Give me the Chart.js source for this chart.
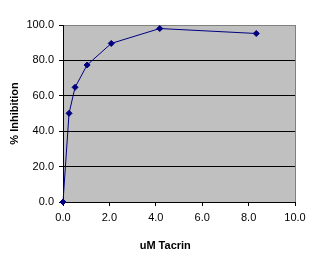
<!DOCTYPE html>
<html>
<head>
<meta charset="utf-8">
<script src="https://cdn.jsdelivr.net/npm/chart.js@4"></script>
<style>
  html, body { margin: 0; padding: 0; background: #fff; }
  #wrap { width: 315px; height: 264px; }
</style>
</head>
<body>
<div id="wrap"><canvas id="chart" width="315" height="264"></canvas></div>
<script>
// tacrin concentration (uM) and % inhibition
const concentrations = [0, 0.26, 0.52, 1.04, 2.08, 4.17, 8.33];
const inhibition = [0, 50.1, 64.8, 77.4, 89.6, 98.0, 95.2];
const xTicks = [0, 2, 4, 6, 8, 10];
const yTicks = [0, 20, 40, 60, 80, 100];

const points = concentrations.map((c, i) => ({ x: c, y: inhibition[i] }));

const plotBg = {
  id: "plotBg",
  beforeDraw(chart) {
    const { ctx, chartArea: a } = chart;
    ctx.save();
    ctx.fillStyle = "#c0c0c0";
    ctx.fillRect(a.left, a.top, a.right - a.left, a.bottom - a.top);
    ctx.restore();
  }
};

new Chart(document.getElementById("chart").getContext("2d"), {
  type: "scatter",
  data: {
    datasets: [{
      data: points,
      showLine: true,
      clip: false,
      borderColor: "#000080",
      borderWidth: 1,
      backgroundColor: "#000080",
      pointStyle: "rectRot",
      pointRadius: 3,
      pointBorderWidth: 1,
      tension: 0
    }]
  },
  options: {
    responsive: false,
    animation: false,
    layout: { padding: { top: 25, right: 20, left: 0, bottom: 0 } },
    plugins: { legend: { display: false }, tooltip: { enabled: false } },
    scales: {
      x: {
        type: "linear",
        min: xTicks[0],
        max: xTicks[xTicks.length - 1],
        afterFit: s => { s.height = 62; },
        afterBuildTicks: s => { s.ticks = xTicks.map(v => ({ value: v })); },
        border: { color: "#000", width: 1 },
        grid: {
          color: c => c.tick && c.tick.value === 10 ? "#808080" : "rgba(0,0,0,0)",
          tickColor: "#000",
          tickLength: 4,
          lineWidth: 1
        },
        ticks: {
          color: "#000",
          padding: 5,
          maxRotation: 0,
          font: { family: "Arial, 'Liberation Sans', sans-serif", size: 11 },
          callback: v => v.toFixed(1)
        },
        title: {
          display: true,
          text: "uM Tacrin         ",
          color: "#000",
          padding: { top: 0, bottom: 11 },
          font: { family: "Arial, 'Liberation Sans', sans-serif", size: 11, weight: "bold" }
        }
      },
      y: {
        type: "linear",
        min: yTicks[0],
        max: yTicks[yTicks.length - 1],
        afterFit: s => { s.width = 63; },
        afterBuildTicks: s => { s.ticks = yTicks.map(v => ({ value: v })); },
        border: { color: "#000", width: 1 },
        grid: {
          color: c => c.tick && c.tick.value === 100 ? "#808080" : "#000",
          tickColor: "#000",
          tickLength: 4,
          lineWidth: 1
        },
        ticks: {
          color: "#000",
          padding: 5,
          font: { family: "Arial, 'Liberation Sans', sans-serif", size: 11 },
          callback: v => v.toFixed(1)
        },
        title: {
          display: true,
          text: "% Inhibition",
          color: "#000",
          padding: { top: 8, bottom: 0 },
          font: { family: "Arial, 'Liberation Sans', sans-serif", size: 11, weight: "bold" }
        }
      }
    }
  },
  plugins: [plotBg]
});
</script>
</body>
</html>
